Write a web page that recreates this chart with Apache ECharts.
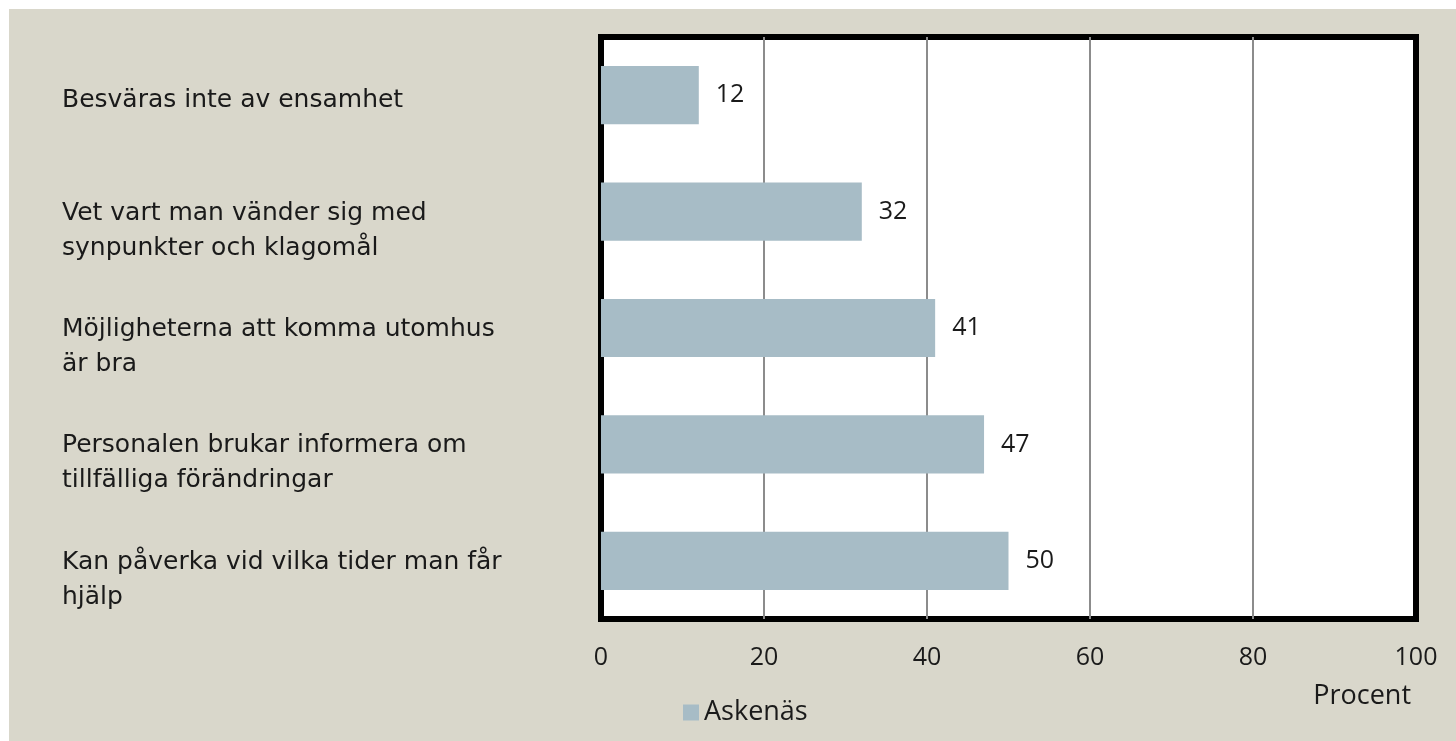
<!DOCTYPE html>
<html lang="sv">
  <head>
    <meta charset="UTF-8" />
    <title>Askenäs</title>
    <script src="https://cdn.jsdelivr.net/npm/echarts@6/dist/echarts.min.js"></script>
    <style>
      body { margin: 0; background: #ffffff; }
      #main { position: absolute; left: 9px; top: 9px; width: 1447px; height: 732px; background: #d9d7cb; }
    </style>
  </head>
  <body>
    <div id="main"></div>
    <script type="text/javascript">
      // data
      const categories = [
        "Besväras inte av ensamhet",
        "Vet vart man vänder sig med\nsynpunkter och klagomål",
        "Möjligheterna att komma utomhus\när bra",
        "Personalen brukar informera om\ntillfälliga förändringar",
        "Kan påverka vid vilka tider man får\nhjälp",
      ];
      const askenas = [12, 32, 41, 47, 50];
      const seriesName = "Askenäs";
      const axisTitle = "Procent";

      const textColor = "#1a1a1a";
      const labelFont = "DejaVu Sans";
      const numFont = "Open Sans";

      let myChart = echarts.init(document.getElementById("main"));

      let options = {
        backgroundColor: "transparent",
        animation: false,
        grid: {
          left: 592,
          top: 28,
          right: 40,
          bottom: 122,
          show: true,
          backgroundColor: "#ffffff",
          borderColor: "#000000",
          borderWidth: 6,
        },
        legend: {
          data: [seriesName],
          left: 669,
          top: 685,
          icon: "rect",
          itemWidth: 16,
          itemHeight: 16,
          itemGap: 8,
          textStyle: { fontFamily: numFont, fontSize: 27, color: textColor },
        },
        xAxis: {
          type: "value",
          min: 0,
          max: 100,
          interval: 20,
          axisLine: { show: false },
          axisTick: { show: false },
          splitLine: { showMinLine: false, showMaxLine: false, lineStyle: { color: "#8c8c8c", width: 2 } },
          axisLabel: {
            margin: 26,
            fontFamily: numFont,
            fontSize: 25,
            color: textColor,
          },
        },
        yAxis: {
          type: "category",
          inverse: true,
          data: categories,
          axisLine: { show: false },
          axisTick: { show: false },
          axisLabel: {
            align: "left",
            margin: 539,
            formatter: (v) => (v.indexOf("\n") >= 0 ? "{two|" + v + "}" : "{one|" + v + "}"),
            rich: {
              one: { fontFamily: labelFont, fontSize: 25, color: textColor, lineHeight: 35, padding: [10, 0, 0, 0] },
              two: { fontFamily: labelFont, fontSize: 25, color: textColor, lineHeight: 35, padding: [38, 0, 0, 0] },
            },
          },
        },
        series: [
          {
            name: seriesName,
            type: "bar",
            data: askenas,
            barWidth: "50%",
            itemStyle: { color: "#a7bcc6" },
            label: {
              show: true,
              position: "right",
              distance: 17,
              fontFamily: numFont,
              fontSize: 25,
              color: textColor,
            },
          },
        ],
        graphic: [
          {
            type: "text",
            right: 45,
            top: 674,
            style: { text: axisTitle, fontFamily: numFont, fontSize: 27, fill: textColor },
          },
        ],
      };

      myChart.setOption(options);
    </script>
  </body>
</html>
